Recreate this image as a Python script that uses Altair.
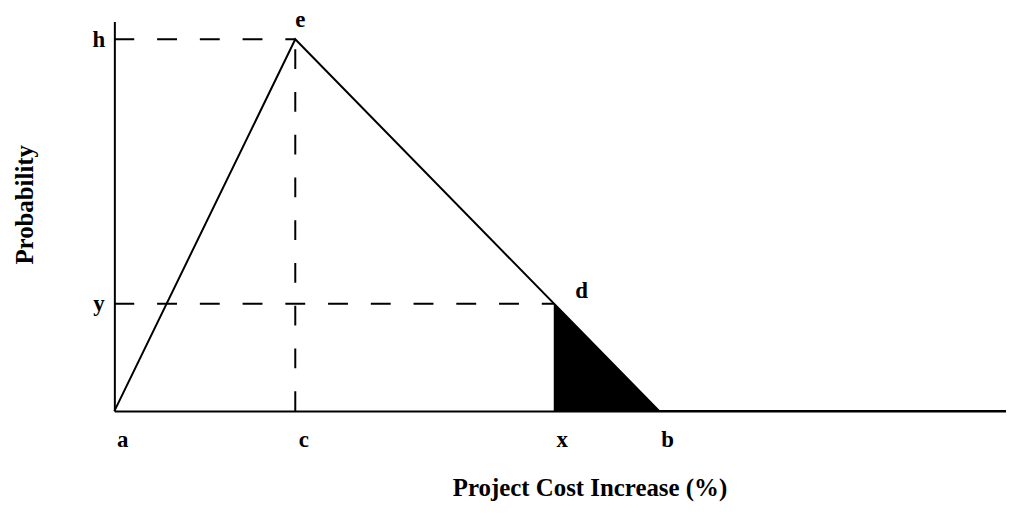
import altair as alt
import pandas as pd

# Key points of the triangular distribution (horizontal / vertical data units)
point_labels = ["a", "c", "x", "b"]
point_x = [0, 182, 442, 548]

curve_x = [0, 182, 548, 897]
curve_y = [0, 374, 0, 0]

shade_x = [442, 548]
shade_y = [108, 0]

level_labels = ["h", "y"]
level_values = [374, 108]

peak_label = "e"
peak_point = (182, 374)
tail_label = "d"
tail_point = (442, 108)

x_max = 897
y_max = 392

FONT = "Liberation Serif"

xs = alt.Scale(domain=[0, x_max], nice=False, zero=False)
ys = alt.Scale(domain=[0, y_max], nice=False, zero=False)


def label_expr(values, labels):
    expr = "''"
    for v, l in reversed(list(zip(values, labels))):
        expr = f"datum.value == {v} ? '{l}' : ({expr})"
    return expr


x_axis = alt.Axis(
    values=point_x, labelExpr=label_expr(point_x, point_labels),
    grid=False, ticks=False, domain=True, domainColor="black", domainWidth=2,
    labelFont=FONT, labelFontSize=23, labelFontWeight="bold", labelColor="black",
    labelPadding=36, labelBaseline="alphabetic", labelOffset=8,
    labelFlush=False, labelOverlap=False, labelBound=False,
    title="Project Cost Increase (%)", titleFont=FONT, titleFontSize=25,
    titleFontWeight="bold", titleColor="black", titleX=478, titleY=85,
    titleAlign="center", titleBaseline="alphabetic",
)
y_axis = alt.Axis(
    values=level_values, labelExpr=label_expr(level_values, level_labels),
    grid=False, ticks=False, domain=True, domainColor="black", domainWidth=2,
    labelFont=FONT, labelFontSize=23, labelFontWeight="bold", labelColor="black",
    labelPadding=16, labelAlign="center", labelBaseline="alphabetic", labelOffset=7,
    labelFlush=False, labelOverlap=False, labelBound=False,
    title="Probability", titleFont=FONT, titleFontSize=25, titleFontWeight="bold",
    titleColor="black", titleX=-90, titleY=184, titleAngle=270,
    titleAlign="center", titleBaseline="middle",
)

curve_df = pd.DataFrame({"x": curve_x, "y": curve_y})
shade_df = pd.DataFrame({"x": shade_x, "y": shade_y})

dash_df = pd.DataFrame({
    "x": [0, peak_point[0], 0],
    "x2": [peak_point[0], peak_point[0], tail_point[0]],
    "y": [level_values[0], 0, level_values[1]],
    "y2": [level_values[0], peak_point[1], level_values[1]],
})

base_curve = alt.Chart(curve_df).mark_line(color="black", strokeWidth=2).encode(
    x=alt.X("x:Q", scale=xs, axis=x_axis),
    y=alt.Y("y:Q", scale=ys, axis=y_axis),
)

shade = alt.Chart(shade_df).mark_area(color="black", opacity=1).encode(
    x=alt.X("x:Q", scale=xs),
    y=alt.Y("y:Q", scale=ys),
)

dashes = alt.Chart(dash_df).mark_rule(
    color="black", strokeWidth=2, strokeDash=[20, 23]
).encode(
    x=alt.X("x:Q", scale=xs), x2="x2:Q",
    y=alt.Y("y:Q", scale=ys), y2="y2:Q",
)

text_style = dict(font=FONT, fontSize=23, fontWeight="bold", color="black",
                  align="center", baseline="alphabetic")

peak_text = alt.Chart(pd.DataFrame({"x": [peak_point[0]], "y": [peak_point[1]], "t": [peak_label]})).mark_text(
    dx=5, dy=-12, **text_style
).encode(x=alt.X("x:Q", scale=xs), y=alt.Y("y:Q", scale=ys), text="t:N")

tail_text = alt.Chart(pd.DataFrame({"x": [tail_point[0]], "y": [tail_point[1]], "t": [tail_label]})).mark_text(
    dx=28, dy=-6, **text_style
).encode(x=alt.X("x:Q", scale=xs), y=alt.Y("y:Q", scale=ys), text="t:N")

chart = alt.layer(shade, base_curve, dashes, peak_text, tail_text).properties(
    width=x_max, height=y_max,
    autosize=alt.AutoSizeParams(type="none"),
    padding={"left": 107, "top": 12, "right": 0, "bottom": 92},
    background="white",
).configure_view(stroke=None)

chart.save("out.html", embed_options={"renderer": "svg", "actions": False})
